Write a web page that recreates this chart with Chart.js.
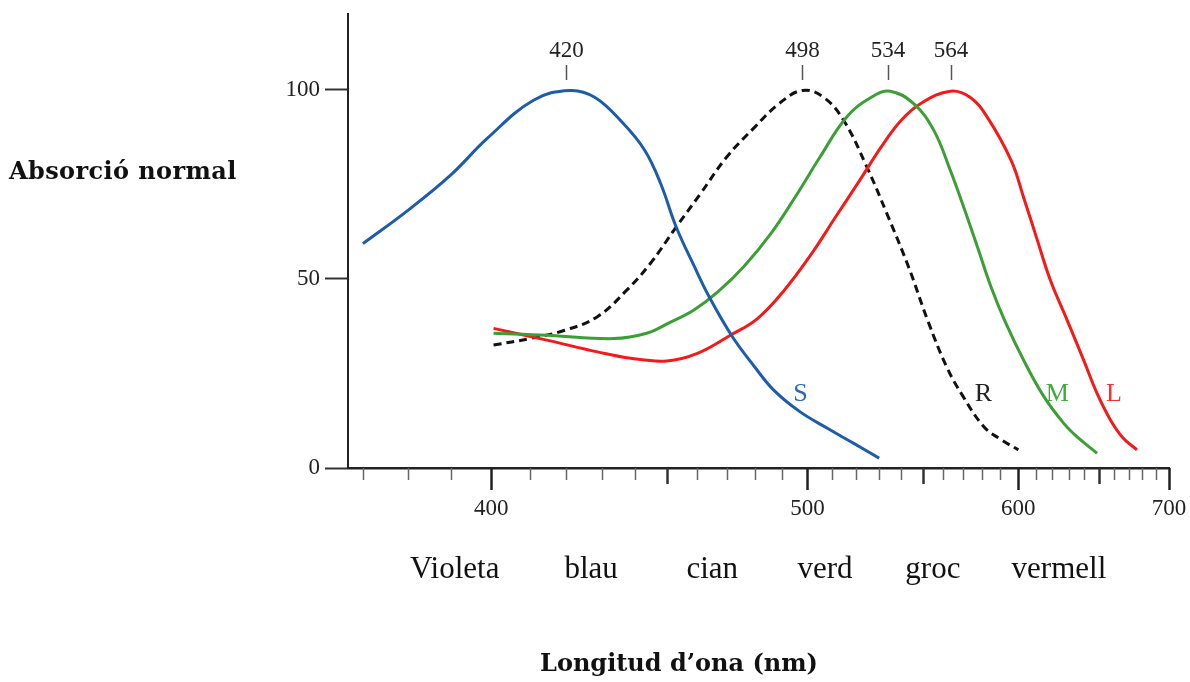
<!DOCTYPE html>
<html>
<head>
<meta charset="utf-8">
<title>Absorció normal</title>
<script src="https://cdn.jsdelivr.net/npm/chart.js@4.4.1/dist/chart.umd.min.js"></script>
<style>
  html, body { margin: 0; padding: 0; background: #fff; }
  #wrap { width: 1190px; height: 682px; }
</style>
</head>
<body>
<div id="wrap"><canvas id="absorptionChart" width="1190" height="682"></canvas></div>
<script>
// wavelengths (nm) and normalised absorption
const sWavelengths = [370, 380, 390, 399, 411, 421, 428, 436, 443, 448, 453, 459, 464, 472, 480, 487, 497, 508, 519, 530];
const sValues = [59.3, 68.1, 77.4, 87.1, 97.2, 99.8, 98, 91.5, 84, 75.2, 63.7, 53.2, 45.2, 34.7, 26.7, 20.6, 14.9, 10.5, 6.5, 2.6];

const rWavelengths = [400.6, 410, 419.5, 428.8, 437.5, 444.7, 453, 461, 470, 480, 489, 498, 506.4, 514.7, 524.6, 533.5, 543.5, 552.5, 562, 570, 581, 590, 600];
const rValues = [32.5, 34.2, 36.4, 40, 47, 54, 63.7, 72.5, 82.2, 90.1, 96.3, 99.8, 98, 91.9, 79.6, 67.2, 53, 39, 26.5, 19, 10.9, 7.6, 4.8];

const mWavelengths = [400.6, 414.6, 433.6, 443.6, 451, 458.7, 467, 476, 486, 496, 505, 516, 526.6, 535, 545.8, 555.4, 563.6, 570.4, 577.6, 584.8, 592.2, 603, 614.7, 627, 636, 648.4];
const mValues = [35.6, 35.1, 34.2, 35.6, 38.5, 41.7, 46.6, 53.2, 62, 72.5, 82.2, 92.8, 98, 99.6, 96.3, 89.3, 78.7, 69, 58.4, 47.9, 39.1, 28.5, 19, 11.8, 8, 3.9];

const lWavelengths = [400.6, 414.6, 428.8, 438.7, 450, 460, 471.3, 481, 491, 502, 511, 521.8, 530.5, 540, 549, 563.6, 573.7, 582.7, 595.9, 603, 610.8, 618.8, 629.1, 639.6, 648.4, 657.4, 666, 676];
const lValues = [36.9, 33.8, 30.7, 29, 28.3, 30.3, 35.1, 39.5, 47, 57, 66, 76.3, 84.5, 91.9, 96.3, 99.6, 98, 92.8, 81.3, 71.5, 60.5, 49.6, 39.1, 28.5, 19.7, 12.7, 8, 4.8];

// axis ticks
const xTickValues = [370, 380, 390, 400, 410, 420, 430, 440, 450, 460, 470, 480, 490, 500, 510, 520, 530, 540, 550, 560, 570, 580, 590, 600, 610, 620, 630, 640, 650, 660, 670, 680, 690, 700];
const xTickLabels = [400, 500, 600, 700];
const yTickValues = [0, 50, 100];

// peak markers on top, curve letters, colour names under the axis
const peakWavelengths = [420, 498, 534, 564];
const curveLetters = ['S', 'R', 'M', 'L'];
const letterWavelengths = [497.2, 580.7, 623, 659.8];
const letterValues = [19.5, 19.5, 19.5, 19.5];
const colourNames = ['Violeta', 'blau', 'cian', 'verd', 'groc', 'vermell'];
const colourNameWavelengths = [391, 427, 465, 507, 555, 624];

const BLUE = '#1d5caa';
const BLACK = '#111111';
const GREEN = '#3b9f35';
const RED = '#f51a1a';
const letterColors = ['#2d67b8', '#222222', '#3faa3f', '#f53030'];

const SERIF = '"Liberation Serif", "Times New Roman", serif';
const BOLD_SERIF = '"DejaVu Serif", Georgia, serif';

// wavelength axis drawn in 1/lambda, as in the original figure
class ReciprocalScale extends Chart.LinearScale {
  static id = 'reciprocal';
  static defaults = Chart.LinearScale.defaults;

  buildTicks() {
    return xTickValues.map(v => ({ value: v }));
  }

  getPixelForValue(value) {
    const a = 1 / this.min, b = 1 / this.max;
    return this.getPixelForDecimal((a - 1 / value) / (a - b));
  }

  getValueForPixel(pixel) {
    const a = 1 / this.min, b = 1 / this.max;
    const d = this.getDecimalForPixel(pixel);
    return 1 / (a - d * (a - b));
  }
}
Chart.register(ReciprocalScale);

function toPoints(xs, ys) {
  return xs.map((x, i) => ({ x: x, y: ys[i] }));
}

function line(label, xs, ys, color, dash) {
  return {
    label: label,
    data: toPoints(xs, ys),
    borderColor: color,
    borderWidth: 3,
    borderDash: dash || [],
    pointRadius: 0,
    tension: 0.4,
    fill: false
  };
}

const annotationsPlugin = {
  id: 'annotations',
  afterDraw(chart) {
    const ctx = chart.ctx;
    const x = chart.scales.x;
    const y = chart.scales.y;
    const area = chart.chartArea;

    ctx.save();

    // tick marks of the wavelength axis
    xTickValues.forEach(v => {
      const px = Math.round(x.getPixelForValue(v)) + 0.5;
      let len = 12, w = 1.5, col = '#666';
      if (v % 100 === 0) { len = 22; w = 2.5; col = '#222'; }
      else if (v % 50 === 0) { len = 16; w = 2.5; col = '#333'; }
      ctx.strokeStyle = col;
      ctx.lineWidth = w;
      ctx.beginPath();
      ctx.moveTo(px, area.bottom);
      ctx.lineTo(px, area.bottom + len);
      ctx.stroke();
    });

    // peak wavelengths
    ctx.font = '23px ' + SERIF;
    ctx.fillStyle = '#222';
    ctx.textAlign = 'center';
    ctx.textBaseline = 'middle';
    peakWavelengths.forEach(p => {
      const px = x.getPixelForValue(p);
      ctx.fillText(String(p), px, 51);
      ctx.strokeStyle = '#555';
      ctx.lineWidth = 1.5;
      ctx.beginPath();
      ctx.moveTo(Math.round(px) + 0.5, 65);
      ctx.lineTo(Math.round(px) + 0.5, 80);
      ctx.stroke();
    });

    // curve letters
    ctx.font = '26px ' + SERIF;
    curveLetters.forEach((t, i) => {
      ctx.fillStyle = letterColors[i];
      ctx.fillText(t, x.getPixelForValue(letterWavelengths[i]), y.getPixelForValue(letterValues[i]));
    });

    // colour names
    ctx.font = '31px ' + SERIF;
    ctx.fillStyle = '#111';
    colourNames.forEach((t, i) => {
      ctx.fillText(t, x.getPixelForValue(colourNameWavelengths[i]), 570);
    });

    // axis titles
    ctx.font = 'bold 24px ' + BOLD_SERIF;
    ctx.fillStyle = '#111';
    ctx.textAlign = 'left';
    ctx.letterSpacing = '0.4px';
    ctx.fillText('Absorció normal', 9, 173);
    ctx.letterSpacing = '0px';
    ctx.textAlign = 'center';
    ctx.fillText('Longitud d\u2019ona (nm)', 679, 665);

    ctx.restore();
  }
};

const ctx = document.getElementById('absorptionChart').getContext('2d');
new Chart(ctx, {
  type: 'line',
  data: {
    datasets: [
      line('S', sWavelengths, sValues, BLUE),
      line('M', mWavelengths, mValues, GREEN),
      line('L', lWavelengths, lValues, RED),
      line('R', rWavelengths, rValues, BLACK, [8, 5])
    ]
  },
  options: {
    responsive: false,
    animation: false,
    events: [],
    layout: { padding: { left: 0, right: 21, top: 14, bottom: 0 } },
    plugins: {
      legend: { display: false },
      tooltip: { enabled: false },
      title: { display: false }
    },
    scales: {
      x: {
        type: 'reciprocal',
        min: 366.8,
        max: 700,
        afterFit: s => { s.height = 214; s.paddingLeft = 0; s.paddingRight = 0; },
        grid: { display: false },
        border: { display: true, color: '#222', width: 2.5 },
        ticks: {
          autoSkip: false,
          maxRotation: 0,
          padding: 19,
          color: '#222',
          font: { family: SERIF, size: 23 },
          callback: v => xTickLabels.includes(v) ? String(v) : ''
        }
      },
      y: {
        min: 0,
        max: 120,
        afterBuildTicks: s => { s.ticks = yTickValues.map(v => ({ value: v })); },
        afterFit: s => { s.width = 348; s.paddingTop = 0; s.paddingBottom = 0; },
        grid: { display: true, drawOnChartArea: false, tickLength: 23, tickColor: '#333', tickWidth: 2 },
        border: { display: true, color: '#222', width: 2 },
        ticks: {
          padding: 5,
          color: '#222',
          font: { family: SERIF, size: 23 }
        }
      }
    }
  },
  plugins: [annotationsPlugin]
});
</script>
</body>
</html>
